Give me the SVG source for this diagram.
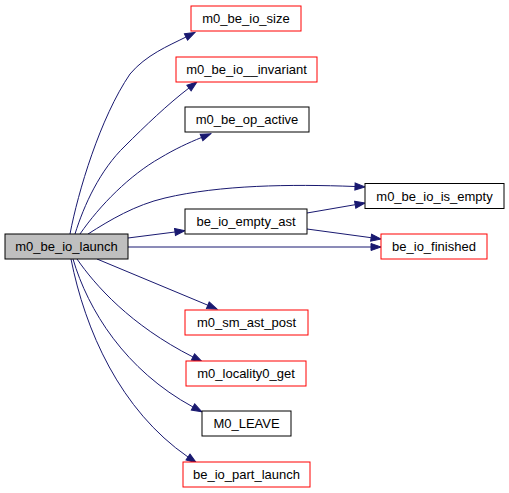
<svg xmlns="http://www.w3.org/2000/svg" width="509" height="493" viewBox="0 0 509 493">
<defs>
<marker id="ah" markerUnits="userSpaceOnUse" markerWidth="11" markerHeight="8" refX="0" refY="3.5" orient="auto" overflow="visible">
<path d="M0,0 L10,3.5 L0,7 z" fill="#191970" stroke="#191970" stroke-width="1"/>
</marker>
</defs>
<style>
.n rect{fill:#ffffff;stroke:#000000;stroke-width:1}
.n.red rect{stroke:#ff0000}
.n.cur rect{fill:#bfbfbf}
.n text{font-family:"Liberation Sans",Arial,sans-serif;font-size:13px;fill:#000000;text-anchor:middle}
#edges path{fill:none;stroke:#191970;stroke-width:1;marker-end:url(#ah)}
</style>
<rect width="509" height="493" fill="#ffffff"/>
<g id="edges">
<path d="M70,234 C78,192 100,118 130,74 C146,55 168,46 186,37"/>
<path d="M75,234 C84,205 100,170 125,146 C145,126 168,104 189,88"/>
<path d="M80,234 C100,205 130,175 160,158 C175,149 188,143 201.5,137.5"/>
<path d="M88,234 C110,220 135,205 165,198 C220,185 290,184 355,186.5"/>
<path d="M128,238 L175,232"/>
<path d="M128,247 L371,247"/>
<path d="M307,213 L355.2,204.7"/>
<path d="M307,229 L371.1,237.7"/>
<path d="M97,259 L207.8,305.2"/>
<path d="M77,259 C95,285 130,325 193,357"/>
<path d="M73,259 C88,310 125,370 193,407"/>
<path d="M71,259 C85,330 120,410 188,457"/>
</g>
<g id="m0_be_io_launch" class="n cur"><rect x="5" y="234" width="123" height="25"/><text x="66.5" y="251">m0_be_io_launch</text></g>
<g id="m0_be_io_size" class="n red"><rect x="191" y="6" width="110" height="25"/><text x="246" y="23">m0_be_io_size</text></g>
<g id="m0_be_io__invariant" class="n red"><rect x="176" y="57" width="141" height="25"/><text x="246.5" y="74">m0_be_io__invariant</text></g>
<g id="m0_be_op_active" class="n"><rect x="185" y="107" width="124" height="25"/><text x="247" y="124">m0_be_op_active</text></g>
<g id="m0_be_io_is_empty" class="n"><rect x="365" y="183.5" width="139" height="25"/><text x="434.5" y="200.5">m0_be_io_is_empty</text></g>
<g id="be_io_empty_ast" class="n"><rect x="185" y="209" width="122" height="25"/><text x="246" y="226">be_io_empty_ast</text></g>
<g id="be_io_finished" class="n red"><rect x="381" y="234" width="106" height="25"/><text x="434" y="251">be_io_finished</text></g>
<g id="m0_sm_ast_post" class="n red"><rect x="185" y="310" width="123" height="25"/><text x="246.5" y="327">m0_sm_ast_post</text></g>
<g id="m0_locality0_get" class="n red"><rect x="186" y="361" width="120" height="25"/><text x="246" y="378">m0_locality0_get</text></g>
<g id="M0_LEAVE" class="n"><rect x="202" y="411" width="89" height="25"/><text x="246.5" y="428">M0_LEAVE</text></g>
<g id="be_io_part_launch" class="n red"><rect x="183" y="462" width="127" height="25"/><text x="246.5" y="479">be_io_part_launch</text></g>
</svg>
